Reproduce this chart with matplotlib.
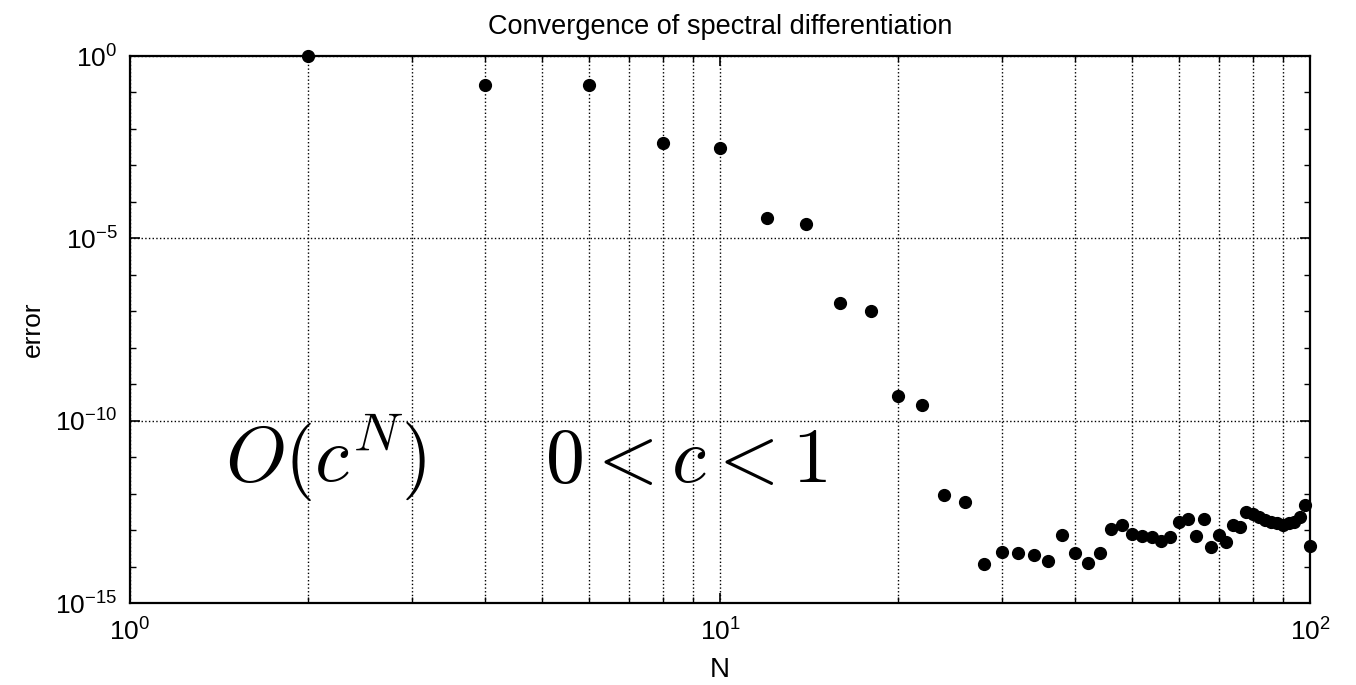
import numpy as np
import matplotlib.pyplot as plt
from matplotlib.ticker import LogLocator, NullFormatter

plt.rcParams['font.family'] = ['Liberation Sans', 'DejaVu Sans']

# even N from 2 to 100
N = list(range(2, 101, 2))
# log10 of the error
log_err = [0.0, -0.80, -0.80, -2.39, -2.51, -4.43, -4.61, -6.76, -6.98, -9.32,
           -9.57, -12.04, -12.24, -13.94, -13.61, -13.62, -13.68, -13.84, -13.13, -13.62,
           -13.89, -13.64, -12.98, -12.86, -13.11, -13.16, -13.18, -13.29, -13.20, -12.77,
           -12.70, -13.16, -12.70, -13.47, -13.13, -13.32, -12.86, -12.92, -12.50, -12.56,
           -12.65, -12.72, -12.77, -12.81, -12.86, -12.81, -12.77, -12.65, -12.31, -13.45]
err = [10.0 ** v for v in log_err]

fig = plt.figure(figsize=(13.56, 6.85), dpi=100)
ax = fig.add_axes([0.0959, 0.1197, 0.8702, 0.7985])

ax.loglog(N, err, 'o', color='black', markersize=8.5, clip_on=False, zorder=3)

ax.set_xlim(1, 100)
ax.set_ylim(1e-15, 1e0)

ax.xaxis.set_major_locator(LogLocator(base=10, numticks=10))
ax.xaxis.set_minor_locator(LogLocator(base=10, subs=np.arange(2, 10), numticks=20))
ax.xaxis.set_minor_formatter(NullFormatter())
ax.set_yticks([1e0, 1e-5, 1e-10, 1e-15])
ax.set_yticks([10.0 ** -k for k in range(16) if k % 5], minor=True)
ax.yaxis.set_minor_formatter(NullFormatter())

ax.grid(True, which='major', axis='both', linestyle=':', color='black', linewidth=1.0)
ax.grid(True, which='minor', axis='x', linestyle=':', color='black', linewidth=1.0)

ax.tick_params(which='both', direction='in', top=True, right=True, labelsize=19)
ax.tick_params(which='major', length=7, width=1.2)
ax.tick_params(which='minor', length=4, width=1.0)
ax.tick_params(axis='x', which='major', pad=11)
ax.tick_params(axis='y', which='major', pad=9)
for s in ax.spines.values():
    s.set_linewidth(1.6)

ax.set_title('Convergence of spectral differentiation', fontsize=19.5, pad=16)
ax.set_xlabel('N', fontsize=20)
ax.xaxis.set_label_coords(0.5, -0.098)
ax.set_ylabel('error', fontsize=19)
ax.yaxis.set_label_coords(-0.072, 0.5)

# annotation placed in pixels (from the bottom-left corner)
ax.text(225, 203, r'$O(c^N)$', transform=None, fontsize=56,
        math_fontfamily='cm', va='baseline', ha='left')
ax.text(545, 203, r'$0 < c < 1$', transform=None, fontsize=56,
        math_fontfamily='cm', va='baseline', ha='left')

fig.savefig('out.png', dpi=100)
